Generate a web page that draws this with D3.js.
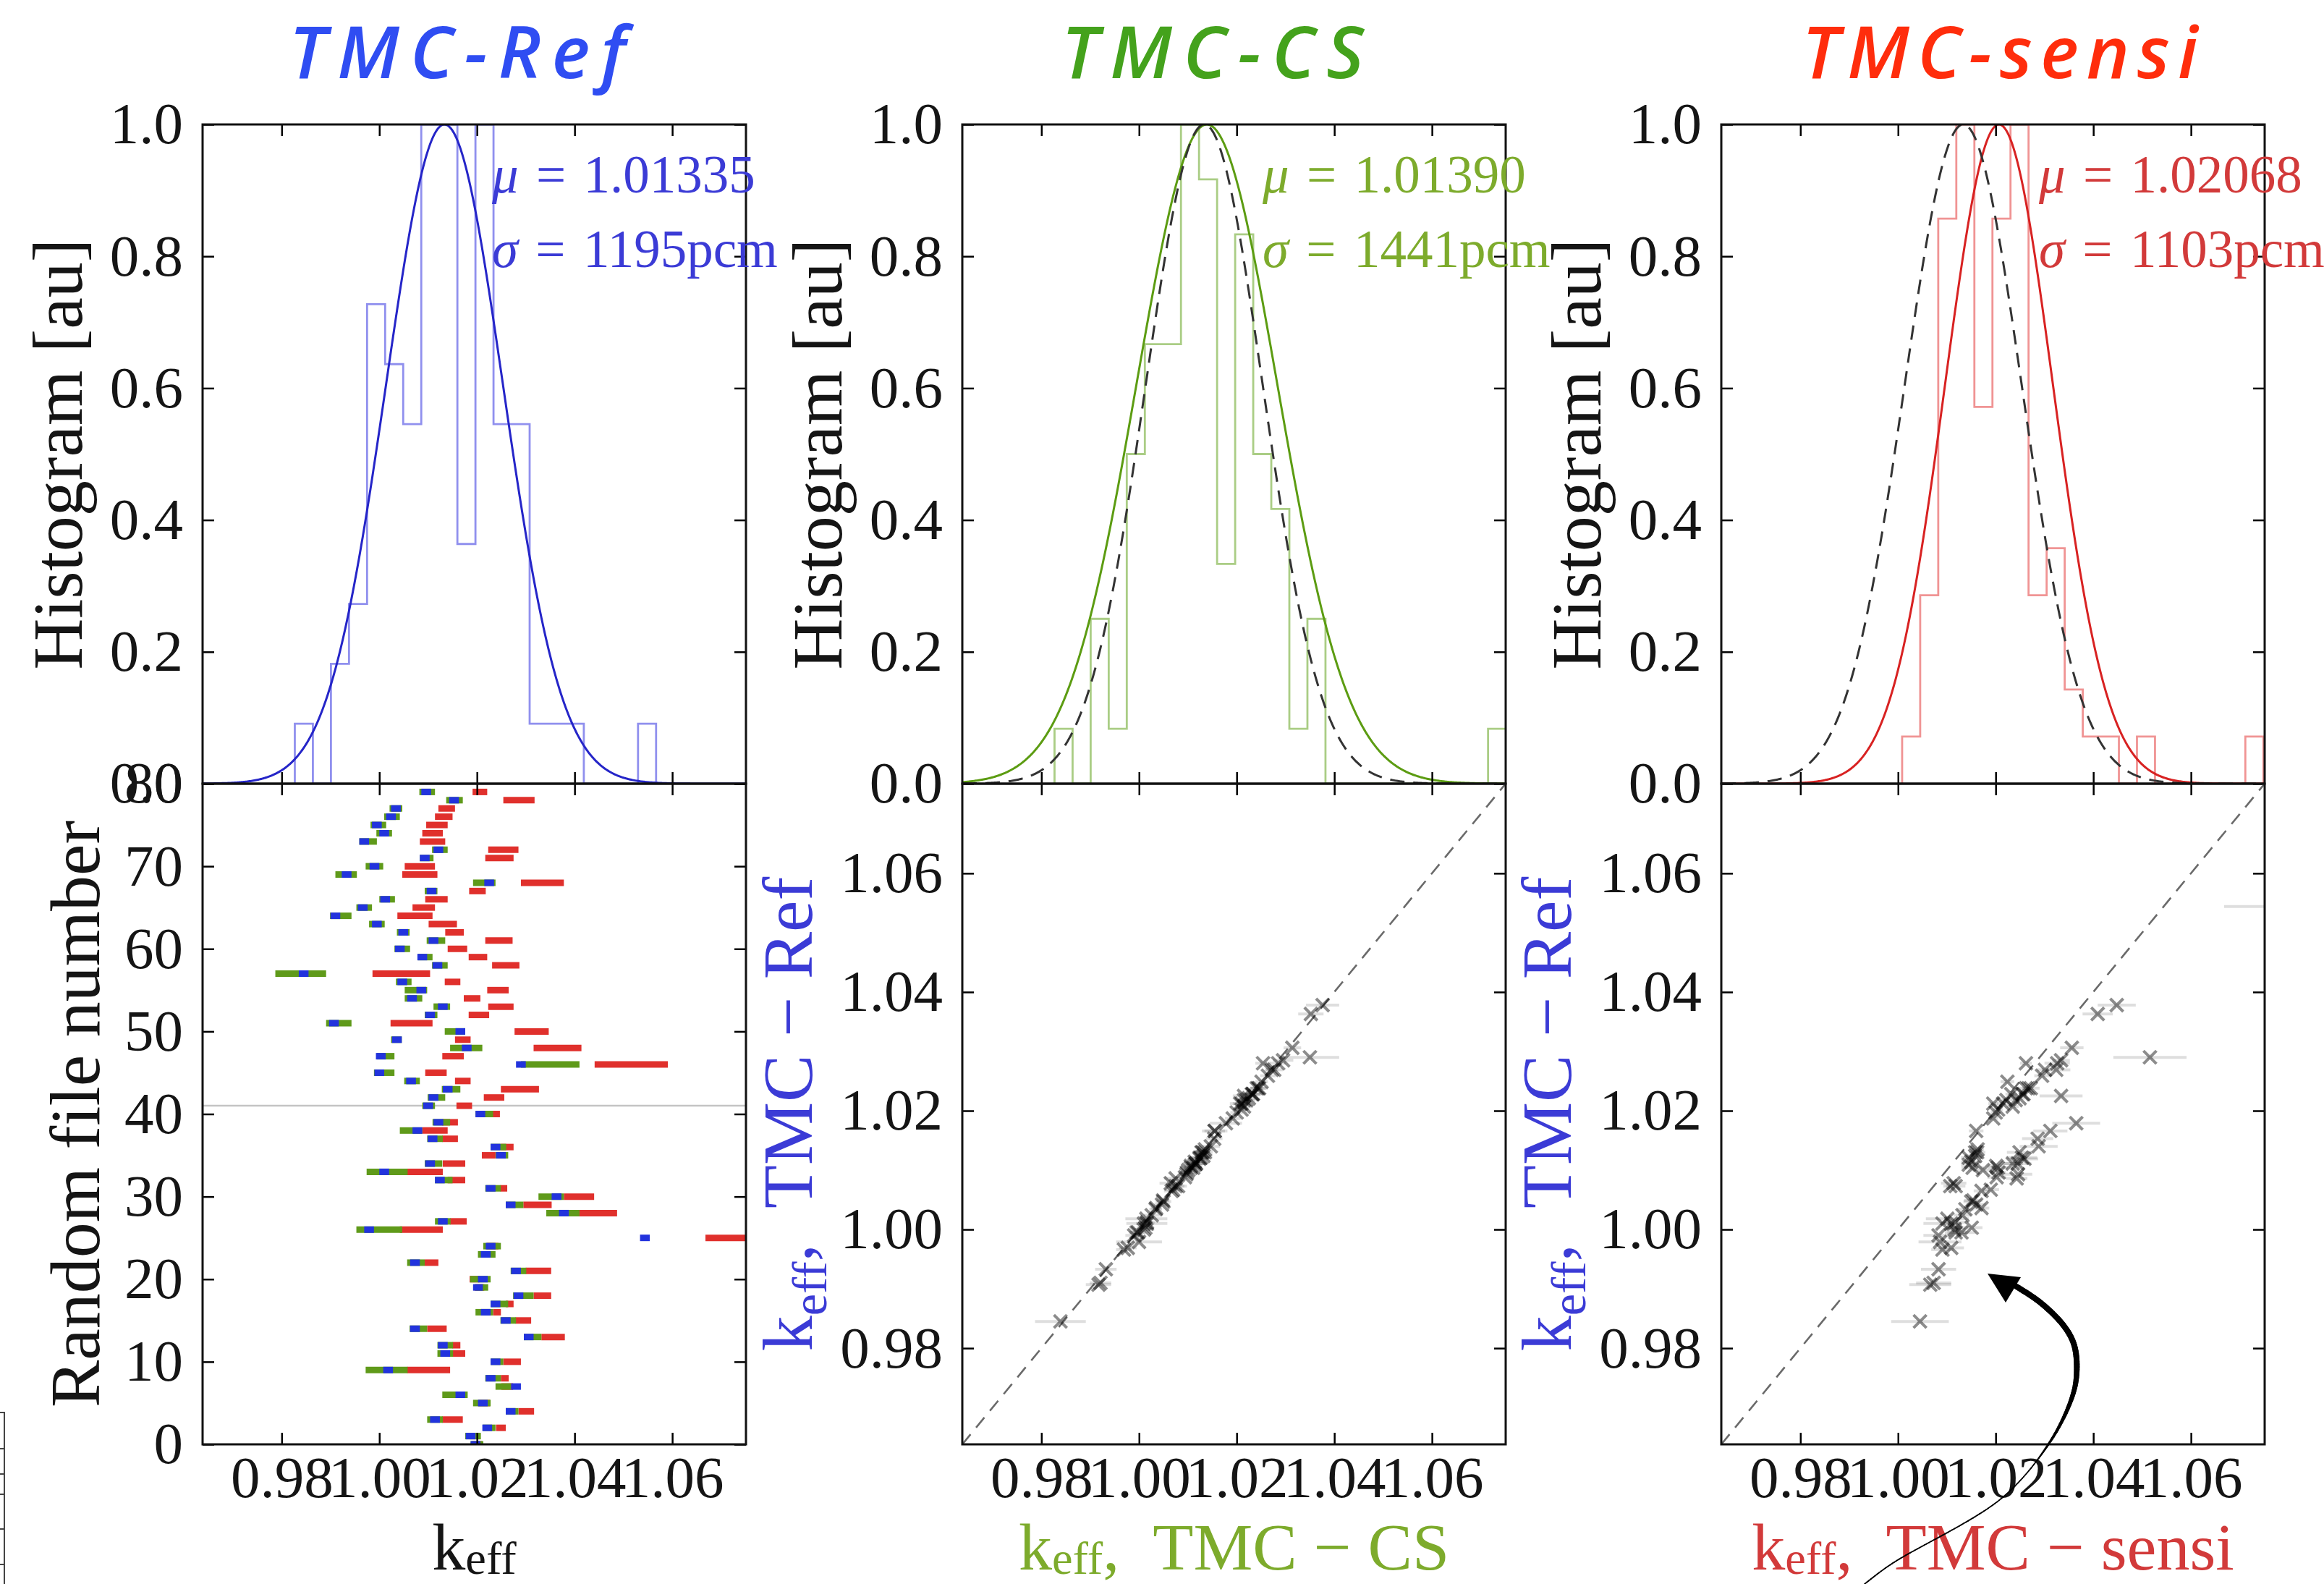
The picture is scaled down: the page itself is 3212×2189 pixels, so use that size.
<!DOCTYPE html>
<html>
<head>
<meta charset="utf-8">
<script src="https://cdn.jsdelivr.net/npm/d3@7"></script>
<style>
  html, body { margin: 0; padding: 0; background: #ffffff; }
  svg { display: block; }
</style>
</head>
<body>
<svg id="fig" width="3212" height="2189"></svg>
<script>
// ---------------------------------------------------------------------------
// k_eff of every random nuclear-data file (index = random file number 0..79)
// Ref = reference TMC, Cs = TMC on cross sections, Sensi = TMC via sensitivities
// null = value outside the plotted range
// ---------------------------------------------------------------------------
const keffRef = [
  1.0197, 1.0187, 1.0221, 1.0114, 1.0269, 1.0212, 1.0166, 1.0280, 1.0228, 1.0018,
  1.0238, 1.0135, 1.0130, 1.0306, 1.0073, 1.0259, 1.0218, 1.0238, 1.0285, 1.0202,
  1.0212, 1.0280, 1.0073, 1.0218, 1.0228, 1.0544, 0.9979, 1.0130, 1.0378, 1.0269,
  1.0363, 1.0228, 1.0124, 1.0010, 1.0104, 1.0249, 1.0238, 1.0109, 1.0078, 1.0121,
  1.0207, 1.0100, 1.0111, 1.0140, 1.0065, 1.0000, 1.0290, 1.0003, 1.0179, 1.0036,
  1.0166, 0.9907, 1.0104, 1.0130, 1.0067, 1.0086, 1.0047, 0.9845, 1.0119, 1.0088,
  1.0042, 1.0111, 1.0049, 0.9995, 0.9910, 0.9966, 1.0012, 1.0107, 1.0225, 0.9933,
  0.9990, 1.0093, 1.0121, 0.9969, 1.0010, 0.9995, 1.0024, 1.0034, 1.0153, 1.0096
];
const keffRefErr = [
  0.0010, 0.0010, 0.0010, 0.0010, 0.0010, 0.0010, 0.0010, 0.0010, 0.0010, 0.0010,
  0.0010, 0.0010, 0.0010, 0.0010, 0.0010, 0.0010, 0.0010, 0.0010, 0.0010, 0.0010,
  0.0010, 0.0010, 0.0010, 0.0010, 0.0010, 0.0010, 0.0010, 0.0010, 0.0010, 0.0010,
  0.0010, 0.0010, 0.0010, 0.0010, 0.0010, 0.0010, 0.0010, 0.0010, 0.0010, 0.0010,
  0.0010, 0.0010, 0.0010, 0.0010, 0.0010, 0.0010, 0.0010, 0.0010, 0.0010, 0.0010,
  0.0010, 0.0010, 0.0010, 0.0010, 0.0010, 0.0010, 0.0010, 0.0010, 0.0010, 0.0010,
  0.0010, 0.0010, 0.0010, 0.0010, 0.0010, 0.0010, 0.0010, 0.0010, 0.0010, 0.0010,
  0.0010, 0.0010, 0.0010, 0.0010, 0.0010, 0.0010, 0.0010, 0.0010, 0.0010, 0.0010
];
const keffCs = [
  1.0200, 1.0192, 1.0225, 1.0114, 1.0272, 1.0210, 1.0155, 1.0254, 1.0233, 1.0015,
  1.0241, 1.0135, 1.0135, 1.0314, 1.0080, 1.0264, 1.0215, 1.0246, 1.0295, 1.0210,
  1.0207, 1.0285, 1.0075, 1.0220, 1.0231, null,   1.0000, 1.0130, 1.0376, 1.0277,
  1.0352, 1.0233, 1.0132, 1.0016, 1.0111, 1.0251, 1.0244, 1.0114, 1.0065, 1.0127,
  1.0215, 1.0101, 1.0117, 1.0147, 1.0067, 1.0010, 1.0350, 1.0013, 1.0178, 1.0035,
  1.0155, 0.9917, 1.0106, 1.0128, 1.0070, 1.0075, 1.0050, 0.9839, 1.0124, 1.0094,
  1.0047, 1.0116, 1.0049, 0.9995, 0.9921, 0.9969, 1.0016, 1.0106, 1.0215, 0.9932,
  0.9990, 1.0097, 1.0124, 0.9977, 1.0010, 0.9998, 1.0026, 1.0034, 1.0154, 1.0098
];
const keffCsErr = [
  0.0013, 0.0016, 0.0013, 0.0016, 0.0013, 0.0018, 0.0026, 0.0016, 0.0016, 0.0043,
  0.0013, 0.0016, 0.0016, 0.0018, 0.0018, 0.0016, 0.0018, 0.0018, 0.0021, 0.0013,
  0.0021, 0.0016, 0.0018, 0.0018, 0.0018, null,   0.0047, 0.0016, 0.0034, 0.0018,
  0.0026, 0.0016, 0.0018, 0.0042, 0.0018, 0.0013, 0.0016, 0.0016, 0.0023, 0.0018,
  0.0018, 0.0013, 0.0018, 0.0019, 0.0016, 0.0021, 0.0060, 0.0018, 0.0033, 0.0011,
  0.0021, 0.0026, 0.0013, 0.0017, 0.0018, 0.0023, 0.0016, 0.0052, 0.0016, 0.0015,
  0.0016, 0.0019, 0.0013, 0.0016, 0.0022, 0.0016, 0.0016, 0.0013, 0.0023, 0.0022,
  0.0018, 0.0014, 0.0016, 0.0018, 0.0016, 0.0016, 0.0016, 0.0013, 0.0017, 0.0016
];
const keffSensi = [
  1.0200, 1.0195, 1.0249, 1.0150, 1.0301, 1.0215, 1.0160, 1.0262, 1.0257, 1.0101,
  1.0272, 1.0163, 1.0158, 1.0356, 1.0118, 1.0295, 1.0241, 1.0267, 1.0334, 1.0205,
  1.0195, 1.0326, 1.0107, 1.0222, 1.0232, 1.0780, 1.0086, 1.0162, 1.0448, 1.0324,
  1.0409, 1.0255, 1.0158, 1.0091, 1.0153, 1.0224, 1.0262, 1.0145, 1.0114, 1.0145,
  1.0235, 1.0174, 1.0235, 1.0288, 1.0171, 1.0116, 1.0516, 1.0151, 1.0365, 1.0171,
  1.0312, 1.0066, 1.0204, 1.0249, 1.0190, 1.0243, 1.0150, 1.0045, 1.0259, 1.0202,
  1.0160, 1.0245, 1.0154, 1.0130, 1.0073, 1.0091, 1.0117, 1.0201, 1.0334, 1.0083,
  1.0083, 1.0246, 1.0254, 1.0109, 1.0109, 1.0118, 1.0132, 1.0138, 1.0286, 1.0206
];
const keffSensiErr = [
  0.0010, 0.0010, 0.0010, 0.0021, 0.0016, 0.0012, 0.0015, 0.0012, 0.0008, 0.0044,
  0.0018, 0.0013, 0.0008, 0.0024, 0.0020, 0.0016, 0.0008, 0.0008, 0.0018, 0.0010,
  0.0010, 0.0026, 0.0014, 0.0012, 0.0012, 0.0112, 0.0044, 0.0017, 0.0039, 0.0029,
  0.0031, 0.0007, 0.0018, 0.0039, 0.0023, 0.0014, 0.0013, 0.0016, 0.0026, 0.0016,
  0.0012, 0.0016, 0.0021, 0.0039, 0.0016, 0.0022, 0.0075, 0.0022, 0.0049, 0.0016,
  0.0035, 0.0043, 0.0021, 0.0026, 0.0017, 0.0022, 0.0016, 0.0059, 0.0028, 0.0019,
  0.0020, 0.0028, 0.0019, 0.0029, 0.0036, 0.0023, 0.0023, 0.0017, 0.0044, 0.0036,
  0.0031, 0.0029, 0.0031, 0.0026, 0.0021, 0.0022, 0.0018, 0.0017, 0.0032, 0.0015
];

// Histogram counts per bin (equal bin width, first bin edge given per method)
const histBinWidth = 0.0037;
const refBinStart = 0.98269;
const csBinStart = 0.98269;
const sensiBinStart = 1.00084;
const refCounts   = [1, 0, 2, 3, 8, 7, 6, 11, 11, 4, 11, 6, 6, 1, 1, 1, 0, 0, 0, 1];
const csCounts    = [1, 0, 3, 1, 6, 8, 8, 12, 11, 4, 10, 6, 5, 1, 3, 0, 0, 0, 0, 0, 0, 0, 0, 0, 1];
const sensiCounts = [1, 4, 12, 14, 8, 12, 14, 4, 5, 2, 1, 1, 0, 1, 0, 0, 0, 0, 0, 1];

// Gaussian fits (mean, standard deviation in pcm)
const fitMu = [1.01335, 1.01390, 1.02068];
const fitSigmaPcm = [1195, 1441, 1103];

// Axis definitions
const keffDomain = [0.9638, 1.0751];
const keffTicks = [0.98, 1.00, 1.02, 1.04, 1.06];
const histTicks = [0.0, 0.2, 0.4, 0.6, 0.8, 1.0];
const fileTicks = [0, 10, 20, 30, 40, 50, 60, 70, 80];
const fileDomain = [0, 80];
const markedFile = 41;

const titles = ["TMC-Ref", "TMC-CS", "TMC-sensi"];
const xLabelSuffix = [null, "TMC\u2005\u2212\u2005CS", "TMC\u2005\u2212\u2005sensi"];
const yLabelScatter = "TMC\u2005\u2212\u2005Ref";

// ---------------------------------------------------------------------------
// Layout and styles
// ---------------------------------------------------------------------------
const L = {
  colX: [280, 1330, 2379], colW: 751,
  histTop: 172, histBottom: 1083, lowBottom: 1996,
  tick: 16, xTickPad: 15, yTickPad: 27,
  titleX: [632, 1676, 2764], titleY: 108, titleLen: [465, 418, 547],
  statDX: [400, 415, 439], statY: [266, 369],
  xLabelY: 2169, xSubShift: 6
};
const serif = "'Liberation Serif', 'Times New Roman', serif";
const tickFont = 81, labelFont = 98, xLabelFont = 92, statFont = 73;

const style = [
  { title: "#2f4df2", line: "#2525c8", step: "#9090ee", text: "#3b3bd6", bar: "#2233dd" },
  { title: "#44a21c", line: "#5c9c12", step: "#aacd85", text: "#7dab2c", bar: "#5f9a1a" },
  { title: "#ff2d0c", line: "#d82222", step: "#f09494", text: "#d23a3a", bar: "#e0302c" }
];

const svg = d3.select("#fig");
const defs = svg.append("defs");

function clipRect(id, x, y, w, h) {
  defs.append("clipPath").attr("id", id)
    .append("rect").attr("x", x).attr("y", y).attr("width", w).attr("height", h);
  return `url(#${id})`;
}

function styleAxis(g, withLabels) {
  g.attr("font-size", null).attr("font-family", null);
  g.select(".domain").remove();
  g.selectAll(".tick line").attr("stroke", "#000").attr("stroke-width", 2.5);
  if (withLabels) {
    g.selectAll(".tick text")
      .attr("font-family", serif).attr("font-size", tickFont).attr("fill", "#151515");
  } else {
    g.selectAll(".tick text").remove();
  }
}

// Four-sided inward ticks around a box
function boxAxes(x, y, xTickVals, yTickVals, xFmt, yFmt, showX) {
  const [x0, x1] = x.range();
  const [yb, yt] = y.range();
  const g = svg.append("g");
  g.append("g").attr("transform", `translate(0,${yb})`)
    .call(d3.axisBottom(x).tickValues(xTickVals).tickFormat(xFmt).tickSize(-L.tick).tickPadding(L.xTickPad))
    .call(s => styleAxis(s, showX));
  g.append("g").attr("transform", `translate(0,${yt})`)
    .call(d3.axisTop(x).tickValues(xTickVals).tickSize(-L.tick))
    .call(s => styleAxis(s, false));
  g.append("g").attr("transform", `translate(${x0},0)`)
    .call(d3.axisLeft(y).tickValues(yTickVals).tickFormat(yFmt).tickSize(-L.tick).tickPadding(L.yTickPad))
    .call(s => styleAxis(s, true));
  g.append("g").attr("transform", `translate(${x1},0)`)
    .call(d3.axisRight(y).tickValues(yTickVals).tickSize(-L.tick))
    .call(s => styleAxis(s, false));
  return g;
}

function frame(x, y) {
  const [x0, x1] = x.range();
  const [yb, yt] = y.range();
  svg.append("rect").attr("x", x0).attr("y", yt).attr("width", x1 - x0).attr("height", yb - yt)
    .attr("fill", "none").attr("stroke", "#111").attr("stroke-width", 3);
}

// k_eff label with subscript, optional suffix
function keffText(sel, size, shift, suffix) {
  sel.append("tspan").text("k");
  sel.append("tspan").attr("font-size", size * 0.7).attr("dy", shift).text("eff");
  if (suffix) {
    sel.append("tspan").attr("dy", -shift).text(",\u00a0\u00a0" + suffix);
  }
}

const gauss = (v, mu, s) => Math.exp(-0.5 * Math.pow((v - mu) / s, 2));
const curveX = d3.range(keffDomain[0], keffDomain[1] + 1e-9, 0.0002);

const histSets = [
  { counts: refCounts, start: refBinStart },
  { counts: csCounts, start: csBinStart },
  { counts: sensiCounts, start: sensiBinStart }
];

const markerPath = "M-9,-9L9,9M-9,9L9,-9";

// ---------------------------------------------------------------------------
// Draw the three columns
// ---------------------------------------------------------------------------
const scatterScales = [];

L.colX.forEach((x0, c) => {
  const st = style[c];
  const x = d3.scaleLinear().domain(keffDomain).range([x0, x0 + L.colW]);
  const yHist = d3.scaleLinear().domain([0, 1]).range([L.histBottom, L.histTop]);

  // ---- title ----
  svg.append("text")
    .attr("x", L.titleX[c]).attr("y", L.titleY)
    .attr("text-anchor", "middle")
    .attr("font-family", "'Open Sans', 'Lato', sans-serif")
    .attr("font-weight", 600).attr("font-style", "italic")
    .attr("font-size", 100)
    .attr("textLength", L.titleLen[c]).attr("lengthAdjust", "spacing")
    .attr("fill", st.title)
    .text(titles[c]);

  // ---- histogram panel ----
  const histClip = clipRect(`clipHist${c}`, x0, L.histTop, L.colW, L.histBottom - L.histTop);
  const hs = histSets[c];
  const maxCount = d3.max(hs.counts);
  const stepPts = [[hs.start, 0]];
  hs.counts.forEach((n, i) => {
    const a = hs.start + i * histBinWidth;
    stepPts.push([a, n / maxCount], [a + histBinWidth, n / maxCount]);
  });
  stepPts.push([hs.start + hs.counts.length * histBinWidth, 0]);
  const hline = d3.line().x(d => x(d[0])).y(d => yHist(d[1]));

  const hg = svg.append("g").attr("clip-path", histClip);
  hg.append("path").attr("d", hline(stepPts))
    .attr("fill", "none").attr("stroke", st.step).attr("stroke-width", 2.8);

  const gl = d3.line().x(d => x(d)).y(d => yHist(gauss(d, fitMu[c], fitSigmaPcm[c] / 1e5)));
  hg.append("path").attr("d", gl(curveX))
    .attr("fill", "none").attr("stroke", st.line).attr("stroke-width", 3);
  if (c > 0) {
    const rl = d3.line().x(d => x(d)).y(d => yHist(gauss(d, fitMu[0], fitSigmaPcm[0] / 1e5)));
    hg.append("path").attr("d", rl(curveX))
      .attr("fill", "none").attr("stroke", "#333").attr("stroke-width", 3)
      .attr("stroke-dasharray", "20,12");
  }

  boxAxes(x, yHist, keffTicks, histTicks, d3.format(".2f"), d3.format(".1f"), false);
  frame(x, yHist);

  // fit annotation
  const stat = svg.append("g").attr("font-family", serif).attr("font-size", statFont).attr("fill", st.text);
  const t1 = stat.append("text").attr("x", x0 + L.statDX[c]).attr("y", L.statY[0]).attr("xml:space", "preserve");
  t1.append("tspan").attr("font-style", "italic").text("\u03bc");
  t1.append("tspan").text("\u2004=\u2004" + d3.format(".5f")(fitMu[c]));
  const t2 = stat.append("text").attr("x", x0 + L.statDX[c]).attr("y", L.statY[1]).attr("xml:space", "preserve");
  t2.append("tspan").attr("font-style", "italic").text("\u03c3");
  t2.append("tspan").text("\u2004=\u2004" + fitSigmaPcm[c] + "pcm");

  // histogram y label
  svg.append("text")
    .attr("transform", `translate(${x0 - 167},${(L.histTop + L.histBottom) / 2}) rotate(-90)`)
    .attr("text-anchor", "middle")
    .attr("font-family", serif).attr("font-size", labelFont).attr("fill", "#151515")
    .text("Histogram [au]");

  // ---- lower panel ----
  if (c === 0) {
    const yFile = d3.scaleLinear().domain(fileDomain).range([L.lowBottom, L.histBottom]);
    const lowClip = clipRect("clipLow0", x0, L.histBottom, L.colW, L.lowBottom - L.histBottom);
    const lg = svg.append("g").attr("clip-path", lowClip);

    lg.append("line")
      .attr("x1", x0).attr("x2", x0 + L.colW)
      .attr("y1", yFile(markedFile)).attr("y2", yFile(markedFile))
      .attr("stroke", "#c4c4c4").attr("stroke-width", 2.5);

    const methods = [
      { v: keffSensi, e: keffSensiErr, color: style[2].bar },
      { v: keffCs, e: keffCsErr, color: style[1].bar },
      { v: keffRef, e: keffRefErr, color: style[0].bar }
    ];
    methods.forEach(m => {
      const rows = m.v.map((v, i) => ({ i, v, e: m.e[i] })).filter(d => d.v !== null);
      lg.selectAll(null).data(rows).join("line")
        .attr("x1", d => x(d.v - d.e)).attr("x2", d => x(d.v + d.e))
        .attr("y1", d => yFile(d.i)).attr("y2", d => yFile(d.i))
        .attr("stroke", m.color).attr("stroke-width", 9);
    });

    boxAxes(x, yFile, keffTicks, fileTicks, d3.format(".2f"), d3.format("d"), true);
    frame(x, yFile);

    svg.append("text")
      .attr("transform", `translate(${x0 - 143},${(L.histBottom + L.lowBottom) / 2}) rotate(-90)`)
      .attr("text-anchor", "middle")
      .attr("font-family", serif).attr("font-size", labelFont).attr("fill", "#151515")
      .text("Random file number");
  } else {
    const yK = d3.scaleLinear().domain(keffDomain).range([L.lowBottom, L.histBottom]);
    scatterScales[c] = { x, y: yK };
    const scClip = clipRect(`clipSc${c}`, x0, L.histBottom, L.colW, L.lowBottom - L.histBottom);
    const sg = svg.append("g").attr("clip-path", scClip);

    sg.append("line")
      .attr("x1", x(keffDomain[0])).attr("y1", yK(keffDomain[0]))
      .attr("x2", x(keffDomain[1])).attr("y2", yK(keffDomain[1]))
      .attr("stroke", "#6a6a6a").attr("stroke-width", 2.6).attr("stroke-dasharray", "18,12");

    const vals = c === 1 ? keffCs : keffSensi;
    const errs = c === 1 ? keffCsErr : keffSensiErr;
    const pts = vals.map((v, i) => ({ v, e: errs[i], r: keffRef[i] })).filter(d => d.v !== null);

    sg.selectAll(null).data(pts).join("line")
      .attr("x1", d => x(d.v - d.e)).attr("x2", d => x(d.v + d.e))
      .attr("y1", d => yK(d.r)).attr("y2", d => yK(d.r))
      .attr("stroke", "#000").attr("stroke-opacity", 0.13).attr("stroke-width", 4);
    sg.selectAll(null).data(pts).join("path")
      .attr("d", markerPath)
      .attr("transform", d => `translate(${x(d.v)},${yK(d.r)})`)
      .attr("fill", "none").attr("stroke", "#000").attr("stroke-opacity", 0.45).attr("stroke-width", 4);

    boxAxes(x, yK, keffTicks, keffTicks, d3.format(".2f"), d3.format(".2f"), true);
    frame(x, yK);

    // y label: k_eff of the reference TMC
    const yl = svg.append("text")
      .attr("transform", `translate(${x0 - 208},${(L.histBottom + L.lowBottom) / 2}) rotate(-90)`)
      .attr("text-anchor", "middle")
      .attr("font-family", serif).attr("font-size", labelFont).attr("fill", style[0].text);
    keffText(yl, labelFont, 20, yLabelScatter);
  }

  // x label
  const xl = svg.append("text")
    .attr("x", x0 + L.colW / 2).attr("y", L.xLabelY)
    .attr("text-anchor", "middle")
    .attr("font-family", serif).attr("font-size", xLabelFont)
    .attr("fill", c === 0 ? "#151515" : style[c].text);
  keffText(xl, xLabelFont, L.xSubShift, xLabelSuffix[c]);
});

// ---------------------------------------------------------------------------
// Curved arrow pointing at the low-k_eff cluster of the sensitivity method
// (coordinates in k_eff units of the right-hand scatter panel)
// ---------------------------------------------------------------------------
const arrowTrack = [
  [0.99315, 0.94027], [0.99848, 0.94356], [1.02131, 0.95478], [1.03109, 0.96416],
  [1.03554, 0.97148], [1.03657, 0.97550], [1.03613, 0.98038], [1.03405, 0.98367],
  [1.02916, 0.98769], [1.02427, 0.99037]
];
const arrowHead = [[1.01834, 0.99257], [1.02516, 0.99196], [1.02205, 0.98769]];
{
  const { x, y } = scatterScales[2];
  const line = d3.line().x(d => x(d[0])).y(d => y(d[1])).curve(d3.curveCatmullRom.alpha(0.5));
  const guide = svg.append("path").attr("d", line(arrowTrack)).attr("fill", "none").attr("stroke", "none");
  const node = guide.node();
  const len = node.getTotalLength();
  const n = 160;
  const ag = svg.append("g").attr("stroke", "#000").attr("stroke-linecap", "round");
  for (let k = 0; k < n; k++) {
    const p = node.getPointAtLength(len * k / n);
    const q = node.getPointAtLength(len * (k + 1) / n);
    const t = (k + 0.5) / n;
    const w = 1.8 + Math.max(0, Math.min(1, (t - 0.5) / 0.25)) * 6.2;
    ag.append("line").attr("x1", p.x).attr("y1", p.y).attr("x2", q.x).attr("y2", q.y)
      .attr("stroke-width", w);
  }
  guide.remove();
  svg.append("path")
    .attr("d", "M" + arrowHead.map(d => `${x(d[0])},${y(d[1])}`).join("L") + "Z")
    .attr("fill", "#000");
}

// Edge of a neighbouring frame at the lower-left border
svg.append("path")
  .attr("d", "M0,1952H6V2189M0,2002H6M0,2037H6M0,2065H6M0,2113H6M0,2162H6")
  .attr("fill", "none").attr("stroke", "#444").attr("stroke-width", 2);
</script>
</body>
</html>
